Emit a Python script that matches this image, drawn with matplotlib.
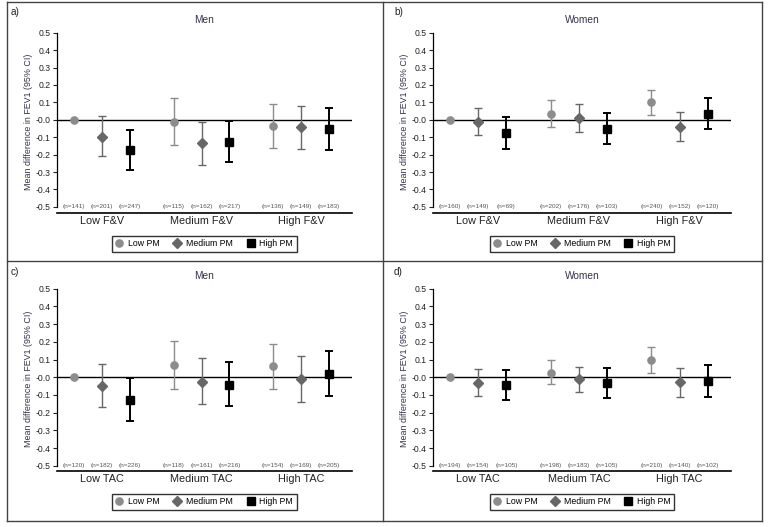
import numpy as np
import matplotlib
matplotlib.use("Agg")
import matplotlib.pyplot as plt
from matplotlib.lines import Line2D

plt.rcParams["font.family"] = ["Liberation Sans", "DejaVu Sans"]
plt.rcParams["axes.unicode_minus"] = False

series = ["Low PM", "Medium PM", "High PM"]
fv_groups = ["Low F&V", "Medium F&V", "High F&V"]
tac_groups = ["Low TAC", "Medium TAC", "High TAC"]

# estimates / lower CI / upper CI, rows = PM level, cols = diet group
a_est = [[0.0, -0.01, -0.038], [-0.096, -0.134, -0.044], [-0.174, -0.125, -0.054]]
a_lo = [[np.nan, -0.142, -0.161], [-0.209, -0.26, -0.169], [-0.289, -0.24, -0.176]]
a_hi = [[np.nan, 0.123, 0.088], [0.021, -0.015, 0.082], [-0.056, -0.008, 0.067]]
a_n = [[141, 115, 136], [201, 162, 149], [247, 217, 183]]

b_est = [[0.0, 0.034, 0.103], [-0.011, 0.01, -0.04], [-0.075, -0.054, 0.036]]
b_lo = [[np.nan, -0.044, 0.025], [-0.09, -0.071, -0.121], [-0.169, -0.14, -0.05]]
b_hi = [[np.nan, 0.111, 0.172], [0.069, 0.088, 0.046], [0.019, 0.038, 0.123]]
b_n = [[160, 202, 240], [149, 176, 152], [69, 103, 120]]

c_est = [[0.0, 0.07, 0.064], [-0.047, -0.025, -0.011], [-0.13, -0.043, 0.019]]
c_lo = [[np.nan, -0.066, -0.066], [-0.168, -0.153, -0.14], [-0.25, -0.161, -0.106]]
c_hi = [[np.nan, 0.204, 0.189], [0.076, 0.106, 0.119], [-0.006, 0.087, 0.147]]
c_n = [[120, 118, 154], [182, 161, 169], [226, 216, 205]]

d_est = [[0.0, 0.026, 0.096], [-0.03, -0.011, -0.028], [-0.045, -0.032, -0.019]]
d_lo = [[np.nan, -0.038, 0.023], [-0.104, -0.081, -0.11], [-0.129, -0.117, -0.11]]
d_hi = [[np.nan, 0.095, 0.17], [0.045, 0.06, 0.053], [0.042, 0.053, 0.068]]
d_n = [[194, 198, 210], [154, 183, 140], [105, 105, 102]]

markers = ["o", "D", "s"]
msizes = [5.2, 4.6, 5.6]
colors = ["#8c8c8c", "#676767", "#000000"]
ebar_lw = [1.0, 1.0, 1.4]
offsets = [-0.28, 0.0, 0.28]
title_color = "#33334a"

W, H = 768, 527
fig = plt.figure(figsize=(W / 100, H / 100), dpi=100)


def px_axes(left, top, right, bottom):
    return fig.add_axes([left / W, 1 - bottom / H, (right - left) / W, (bottom - top) / H])


def draw_panel(ax, est, lo, hi, ns, groups, title, ylim):
    x = np.arange(1, len(groups) + 1)
    for i in range(len(series)):
        e = np.array(est[i])
        err = np.vstack([e - np.array(lo[i]), np.array(hi[i]) - e])
        ax.errorbar(x + offsets[i], e, yerr=err, fmt="none", ecolor=colors[i],
                    elinewidth=ebar_lw[i], capsize=2.6, capthick=ebar_lw[i], zorder=3)
        ax.plot(x + offsets[i], e, linestyle="none", marker=markers[i],
                markersize=msizes[i], color=colors[i], label=series[i], zorder=4)
        for xi, n in zip(x + offsets[i], ns[i]):
            ax.text(xi, -0.5, f"(n={n})", fontsize=4.6, color="#555555",
                    ha="center", va="center")
    ax.axhline(0, color="black", lw=1.0, zorder=2)
    ax.set_xlim(0.55, 3.51)
    ax.set_ylim(*ylim)
    yt = np.round(np.arange(-0.5, 0.51, 0.1), 1)
    ax.set_yticks(yt)
    ax.set_yticklabels([f"{v:.1f}" for v in yt])
    ax.set_xticks(x)
    ax.set_xticklabels(groups, fontsize=7.8, color="#222222")
    ax.tick_params(axis="x", length=0, pad=2)
    ax.tick_params(axis="y", labelsize=6.2, length=3, width=0.8, pad=1.5, colors="#222222")
    for s in ["top", "right"]:
        ax.spines[s].set_visible(False)
    ax.spines["left"].set_bounds(-0.5, 0.5)
    ax.spines["left"].set_linewidth(0.9)
    ax.spines["bottom"].set_linewidth(1.2)
    ax.set_ylabel("Mean difference in FEV1 (95% CI)", fontsize=6.4, color=title_color, labelpad=2)
    ax.set_title(title, fontsize=7.3, color=title_color, pad=6)
    leg = ax.legend(loc="upper center", bbox_to_anchor=(0.5, -0.1), ncol=3, fontsize=6.3,
                    frameon=True, fancybox=False, edgecolor="black", handlelength=0.8,
                    handletextpad=0.6, columnspacing=1.6, borderpad=0.4)
    leg.get_frame().set_linewidth(1.0)


ax_a = px_axes(57, 31, 352, 213)
ax_b = px_axes(433, 31, 731, 213)
ax_c = px_axes(57, 287, 352, 471)
ax_d = px_axes(433, 287, 731, 471)

draw_panel(ax_a, a_est, a_lo, a_hi, a_n, fv_groups, "Men", (-0.535, 0.51))
draw_panel(ax_b, b_est, b_lo, b_hi, b_n, fv_groups, "Women", (-0.535, 0.51))
draw_panel(ax_c, c_est, c_lo, c_hi, c_n, tac_groups, "Men", (-0.53, 0.51))
draw_panel(ax_d, d_est, d_lo, d_hi, d_n, tac_groups, "Women", (-0.53, 0.51))

# panel labels
for lab, (px, py) in zip(["a)", "b)", "c)", "d)"], [(11, 12), (394, 12), (11, 272), (394, 272)]):
    fig.text(px / W, 1 - py / H, lab, fontsize=7.2, ha="left", va="center", color="#222222")

# outer frame and dividers
frame_kw = dict(color="#444444", lw=1.0, transform=fig.transFigure)
L, T, R, B, VX, HY = 7, 2, 762, 521, 383, 261
for (x0, y0, x1, y1) in [(L, T, R, T), (L, B, R, B), (L, T, L, B), (R, T, R, B),
                         (VX, T, VX, B), (L, HY, R, HY)]:
    fig.add_artist(Line2D([x0 / W, x1 / W], [1 - y0 / H, 1 - y1 / H], **frame_kw))

fig.savefig("out.png", dpi=100)
